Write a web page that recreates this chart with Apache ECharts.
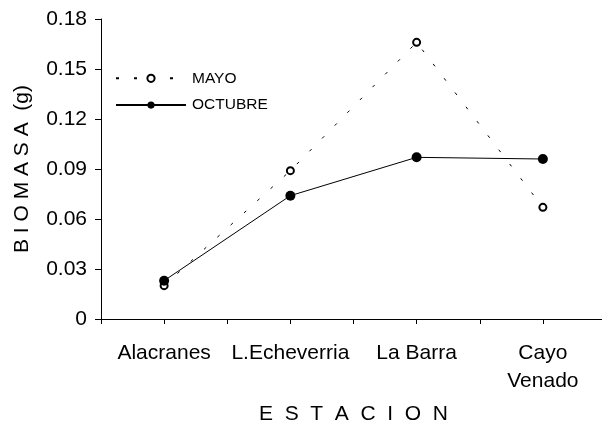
<html>
<head>
    <title>Biomasa por estacion</title>
    <script src="https://cdn.jsdelivr.net/npm/echarts@6.0.0/dist/echarts.min.js"></script>
</head>
<body style="margin:0;background:#fff;">
    <div id="main" style="width:602px;height:426px;"></div>
    <script type="text/javascript">
        // data
        var estaciones = ["Alacranes", "L.Echeverria", "La Barra", "Cayo\nVenado"];
        var mayo = [0.020, 0.089, 0.166, 0.067];
        var octubre = [0.023, 0.074, 0.097, 0.096];
        var yTicks = ["0", "0.03", "0.06", "0.09", "0.12", "0.15", "0.18"];

        function pairs(vals) {
            var out = [];
            for (var i = 0; i < vals.length; i++) out.push([i, vals[i]]);
            return out;
        }

        var font = "Liberation Sans, Arial, sans-serif";
        var myChart = echarts.init(document.getElementById('main'));
        var option = {
            backgroundColor: "#fff",
            animation: false,
            grid: { left: 101, right: -4, top: 19, bottom: 107, outerBoundsMode: "none", containLabel: false },
            legend: {
                orient: "vertical",
                left: 115,
                top: 65,
                padding: 0,
                itemWidth: 70,
                itemHeight: 9,
                itemGap: 0,
                textStyle: { fontFamily: font, fontSize: 15.5, color: "#000", padding: [0, 0, 0, 1] },
                data: ["MAYO", "OCTUBRE"]
            },
            xAxis: {
                type: "value",
                min: -0.5,
                max: 3.5,
                interval: 0.5,
                name: "E  S  T  A  C  I  O  N",
                nameLocation: "middle",
                nameGap: 77,
                nameMoveOverlap: false,
                nameTextStyle: { fontFamily: font, fontSize: 21, color: "#000" },
                splitLine: { show: false },
                axisLine: { onZero: false, lineStyle: { color: "#000", width: 1 } },
                axisTick: { length: 5, lineStyle: { color: "#000" } },
                axisLabel: {
                    fontFamily: font, fontSize: 21, color: "#000", margin: 20, lineHeight: 28,
                    formatter: function (v) {
                        return Number.isInteger(v) && estaciones[v] ? estaciones[v] : "";
                    }
                }
            },
            yAxis: {
                type: "value",
                min: 0,
                max: 0.18,
                interval: 0.03,
                name: "B I O M A S A  (g)",
                nameLocation: "middle",
                nameGap: 61,
                nameMoveOverlap: false,
                nameTextStyle: { fontFamily: font, fontSize: 21, color: "#000" },
                splitLine: { show: false },
                axisLine: { show: true, onZero: false, lineStyle: { color: "#000", width: 1 } },
                axisTick: { show: true, length: 6, lineStyle: { color: "#000" } },
                axisLabel: {
                    fontFamily: font, fontSize: 21, color: "#000", margin: 14,
                    formatter: function (v) { return yTicks[Math.round(v / 0.03)]; }
                }
            },
            series: [
                {
                    name: "MAYO",
                    type: "line",
                    data: pairs(mayo),
                    symbol: "circle",
                    symbolSize: 7,
                    itemStyle: { color: "#fff", borderColor: "#000", borderWidth: 2 },
                    lineStyle: { color: "#000", width: 1, type: [3, 15] }
                },
                {
                    name: "OCTUBRE",
                    type: "line",
                    data: pairs(octubre),
                    symbol: "circle",
                    symbolSize: 10,
                    itemStyle: { color: "#000", borderColor: "#000", borderWidth: 0 },
                    lineStyle: { color: "#000", width: 1 }
                }
            ]
        };
        option && myChart.setOption(option);
    </script>
</body>
</html>
